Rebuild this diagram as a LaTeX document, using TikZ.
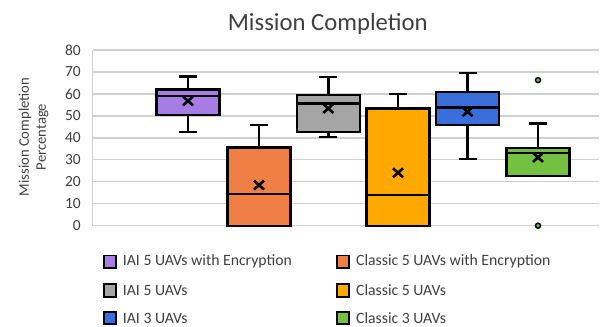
\documentclass[tikz,border=0pt]{standalone}
\usepackage{fontspec}
\setmainfont{Carlito}
\definecolor{txtgray}{HTML}{404040}
\definecolor{gridgray}{HTML}{D0D0D0}
\definecolor{cpurple}{HTML}{A77DE4}
\definecolor{corange}{HTML}{F07F45}
\definecolor{cgray}{HTML}{A5A5A5}
\definecolor{cyellow}{HTML}{FFA800}
\definecolor{cblue}{HTML}{3A6FDB}
\definecolor{cgreen}{HTML}{74C040}
\tikzset{
  gridline/.style={draw=gridgray, line width=1.3bp},
  boxline/.style={draw=black, line width=2.4bp},
  ticklabel/.style={anchor=east, inner sep=0pt, text=txtgray, font=\fontsize{15.5}{18}\selectfont},
  legtext/.style={anchor=west, inner sep=0pt, text=txtgray, font=\fontsize{15.8}{19}\selectfont},
  legsq/.style={draw=black, line width=1.8bp, minimum size=12.5bp, inner sep=0pt},
  outlier/.style={circle, draw=black, line width=1.5bp, minimum size=5bp, inner sep=0pt}
}
% \bxp{name}{cx}{wmin}{q1}{med}{q3}{wmax}{mean}{color}
\newcommand{\bxp}[9]{%
  \draw[boxline] (#2,#6) -- (#2,#7) (#2-9,#7) -- (#2+9,#7);
  \draw[boxline] (#2,#4) -- (#2,#3) (#2-9,#3) -- (#2+9,#3);
  \draw[boxline, fill=#9] (#2-31.5,#4) rectangle (#2+31.5,#6);
  \draw[boxline] (#2-31.5,#5) -- (#2+31.5,#5);
  \draw[line width=2.6bp] (#2,#8) ++(-5bp,-4.5bp) -- ++(10bp,9bp) (#2,#8) ++(-5bp,4.5bp) -- ++(10bp,-9bp);
  \coordinate (#1) at (#2,#8);
}
\begin{document}
\begin{tikzpicture}[x=1bp,y=1bp]
\useasboundingbox (0,0) rectangle (603,326);
\clip (0,0) rectangle (603,326);
\fill[white] (0,0) rectangle (603,326);
% title
\node[anchor=base, inner sep=0pt, text=txtgray, font=\fontsize{24.8}{30}\selectfont] (title) at (327.8,296) {Mission Completion};
% axis title
\node[rotate=90, align=center, inner sep=0pt, text=txtgray, font=\fontsize{14.7}{17}\selectfont] (ytitle) at (33.5,189) {Mission Completion\\Percentage};
\begin{scope}[shift={(0,100.3)}, y=2.196bp]
  \foreach \v in {0,10,...,80} {
    \draw[gridline] (92.7,\v) -- (599,\v);
    \node[ticklabel] (tick\v) at (81,\v) {\v};
  }
  \draw[gridline] (92.7,0) -- (92.7,80);
  \bxp{b1}{188}{42.8}{50.3}{59.0}{62.1}{68.0}{56.8}{cpurple}
  \bxp{b2}{259}{0}{0}{14.4}{35.7}{45.9}{18.5}{corange}
  \bxp{b3}{328.3}{40.5}{42.7}{55.7}{59.4}{67.6}{53.4}{cgray}
  \bxp{b4}{398}{0}{0}{14.0}{53.4}{60.1}{24.1}{cyellow}
  \bxp{b5}{467.5}{30.4}{45.9}{53.9}{61.0}{69.4}{51.9}{cblue}
  \bxp{b6}{538}{22.6}{22.6}{33.0}{35.5}{46.6}{31.1}{cgreen}
  \node[outlier, fill=cgreen] (o1) at (538,66.3) {};
  \node[outlier, fill=cgreen] (o2) at (538,0) {};
\end{scope}
% legend
\node[legsq, fill=cpurple] (l1) at (110,64.3) {};
\node[legtext] (t1) at (122.7,64.3) {IAI 5 UAVs with Encryption};
\node[legsq, fill=corange] (l2) at (343,64.3) {};
\node[legtext] (t2) at (356,64.3) {Classic 5 UAVs with Encryption};
\node[legsq, fill=cgray] (l3) at (110,35.5) {};
\node[legtext] (t3) at (122.7,35.5) {IAI 5 UAVs};
\node[legsq, fill=cyellow] (l4) at (343,35.5) {};
\node[legtext] (t4) at (356,35.5) {Classic 5 UAVs};
\node[legsq, fill=cblue] (l5) at (110,8) {};
\node[legtext] (t5) at (122.7,8) {IAI 3 UAVs};
\node[legsq, fill=cgreen] (l6) at (343,8) {};
\node[legtext] (t6) at (356,8) {Classic 3 UAVs};
\end{tikzpicture}
\end{document}
